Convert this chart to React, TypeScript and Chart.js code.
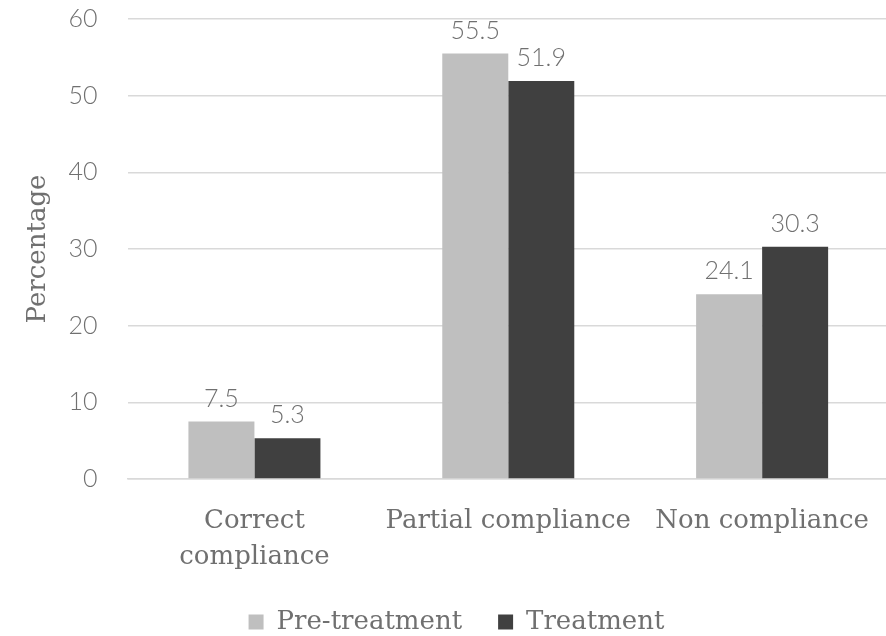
import React, { useEffect, useRef } from "react";
import { Chart, registerables } from "chart.js";

Chart.register(...registerables);

const categories: (string | string[])[] = [["Correct", "compliance"], "Partial compliance", "Non compliance"];
const preTreatment = [7.5, 55.5, 24.1];
const treatment = [5.3, 51.9, 30.3];
const seriesNames = ["Pre-treatment", "Treatment"];
const yTicks = { min: 0, max: 60, step: 10 };

const SERIF = "'DejaVu Serif', 'Liberation Serif', serif";
const SANS = "Lato, 'Noto Sans', 'DejaVu Sans', sans-serif";
const TEXT = "#707070";

const valueLabels = {
  id: "valueLabels",
  afterDatasetsDraw(chart: any) {
    const ctx = chart.ctx;
    ctx.save();
    ctx.font = `300 25px ${SANS}`;
    ctx.fillStyle = TEXT;
    ctx.textAlign = "center";
    ctx.textBaseline = "alphabetic";
    chart.data.datasets.forEach((ds: any, i: number) => {
      const meta = chart.getDatasetMeta(i);
      meta.data.forEach((bar: any, j: number) => {
        ctx.fillText(String(ds.data[j]), bar.x, bar.y - 15);
      });
    });
    ctx.restore();
  },
};

const legendShift = {
  id: "legendShift",
  afterLayout(chart: any) {
    if (chart.legend) {
      chart.legend.left += 10;
      chart.legend.right += 10;
    }
  },
};

export default function App() {
  const ref = useRef<HTMLCanvasElement | null>(null);
  useEffect(() => {
    if (!ref.current) return;
    const chart = new Chart(ref.current, {
      type: "bar",
      data: {
        labels: categories,
        datasets: [
          { label: seriesNames[0], data: preTreatment, backgroundColor: "#bfbfbf", borderWidth: 0 },
          { label: seriesNames[1], data: treatment, backgroundColor: "#404040", borderWidth: 0 },
        ],
      },
      options: {
        responsive: false,
        animation: false,
        layout: { padding: { top: 19, left: 0, right: 0, bottom: 0 } },
        datasets: { bar: { barPercentage: 1, categoryPercentage: 0.52 } },
        plugins: {
          legend: {
            position: "bottom",
            labels: {
              boxWidth: 15,
              boxHeight: 15,
              padding: 36,
              color: TEXT,
              font: { family: SERIF, size: 26 },
            },
          },
          tooltip: { enabled: false },
        },
        scales: {
          x: {
            grid: { display: false, drawTicks: false },
            border: { display: true, color: "#d9d9d9", width: 1.5 },
            ticks: {
              color: TEXT,
              font: { family: SERIF, size: 26, lineHeight: 1.385 },
              padding: 24,
              maxRotation: 0,
              autoSkip: false,
            },
            afterFit(scale: any) {
              scale.height = 94;
            },
          },
          y: {
            min: yTicks.min,
            max: yTicks.max,
            ticks: {
              stepSize: yTicks.step,
              color: TEXT,
              font: { family: SANS, size: 25, weight: "300" },
              padding: 0,
            },
            grid: { color: "#d9d9d9", lineWidth: 1.5, drawTicks: true, tickLength: 30, tickColor: "rgba(0,0,0,0)" },
            border: { display: false },
            title: {
              display: true,
              text: "Percentage",
              color: TEXT,
              font: { family: SERIF, size: 26 },
              padding: { top: 23, bottom: 0 },
            },
            afterFit(scale: any) {
              scale.width = 127.5;
            },
          },
        },
      },
      plugins: [valueLabels, legendShift],
    });
    return () => chart.destroy();
  }, []);
  return (
    <div style={{ position: "fixed", left: 0, top: 0, width: 886, height: 636, overflow: "hidden", background: "#fff" }}>
      <canvas ref={ref} width={893} height={645} style={{ display: "block" }} />
    </div>
  );
}
